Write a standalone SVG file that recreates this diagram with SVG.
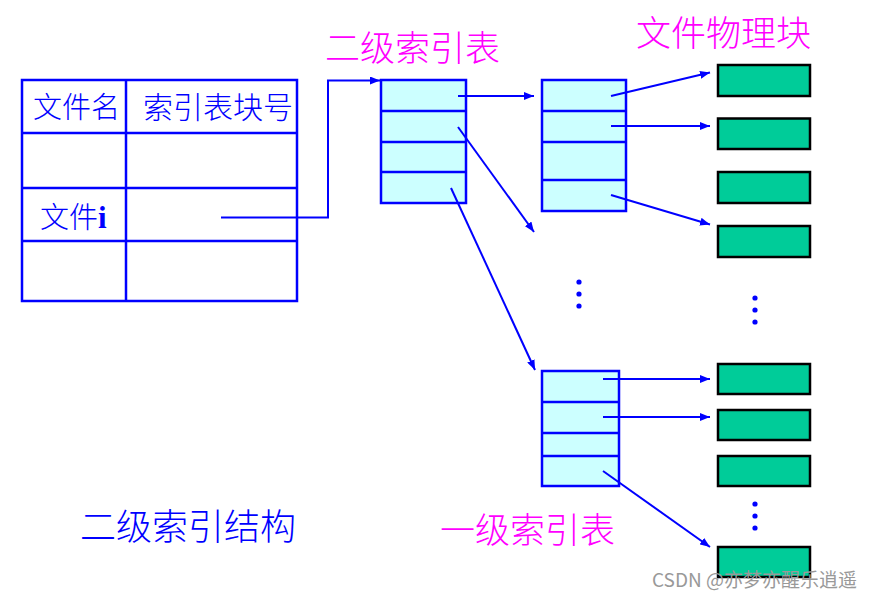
<svg xmlns="http://www.w3.org/2000/svg" width="877" height="599" viewBox="0 0 877 599">
<style>
.tbl{fill:none;stroke:#0000FF;stroke-width:2.5}
.idx{fill:#CCFFFF;stroke:#0000FF;stroke-width:2.5}
.ln{stroke:#0000FF;stroke-width:2.5;fill:none}
.blk{fill:#00CC99;stroke:#000;stroke-width:2.5}
.con{stroke:#0000FF;stroke-width:2;fill:none;marker-end:url(#ah)}
.mag{fill:#FF00FF;font-family:"Noto Sans CJK SC",sans-serif;font-size:35px;font-weight:300}
.bt{fill:#0000FF;font-family:"Noto Sans CJK SC",sans-serif;font-size:29px;font-weight:300}
.dot{fill:#0000FF}
</style>
<defs>
<marker id="ah" viewBox="0 0 10 8" refX="10" refY="4" markerWidth="10" markerHeight="8" markerUnits="userSpaceOnUse" orient="auto">
<path d="M0,0 L10,4 L0,8 Z" fill="#0000FF"/>
</marker>
</defs>

<g id="file-table">
<rect class="tbl" x="22" y="80" width="275" height="221"/>
<line class="ln" x1="126" y1="80" x2="126" y2="301"/>
<line class="ln" x1="22" y1="133" x2="297" y2="133"/>
<line class="ln" x1="22" y1="188" x2="297" y2="188"/>
<line class="ln" x1="22" y1="241" x2="297" y2="241"/>
<text class="bt" x="33" y="118">文件名</text>
<text class="bt" x="143" y="118" style="font-size:30px">索引表块号</text>
<text class="bt" x="40" y="228">文件<tspan font-family="Liberation Serif,serif" font-weight="bold" font-size="31">i</tspan></text>
</g>

<g id="second-index">
<rect class="idx" x="381" y="80" width="85" height="123"/>
<line class="ln" x1="381" y1="111" x2="466" y2="111"/>
<line class="ln" x1="381" y1="142" x2="466" y2="142"/>
<line class="ln" x1="381" y1="172" x2="466" y2="172"/>
</g>

<g id="first-index-top">
<rect class="idx" x="542" y="80" width="84" height="131"/>
<line class="ln" x1="542" y1="111" x2="626" y2="111"/>
<line class="ln" x1="542" y1="142" x2="626" y2="142"/>
<line class="ln" x1="542" y1="180" x2="626" y2="180"/>
</g>

<g id="first-index-bottom">
<rect class="idx" x="542" y="371" width="77" height="115"/>
<line class="ln" x1="542" y1="402" x2="619" y2="402"/>
<line class="ln" x1="542" y1="433" x2="619" y2="433"/>
<line class="ln" x1="542" y1="456" x2="619" y2="456"/>
</g>

<g id="blocks">
<rect class="blk" x="718" y="65" width="92" height="31"/>
<rect class="blk" x="718" y="118.5" width="92" height="30.5"/>
<rect class="blk" x="718" y="172" width="92" height="31"/>
<rect class="blk" x="718" y="226" width="92" height="31"/>
<rect class="blk" x="718" y="364" width="92" height="30"/>
<rect class="blk" x="718" y="410" width="92" height="30"/>
<rect class="blk" x="718" y="456" width="92" height="30"/>
<rect class="blk" x="718" y="547" width="92" height="30"/>
</g>

<g id="dots">
<circle class="dot" cx="579" cy="282" r="2.6"/>
<circle class="dot" cx="579" cy="294" r="2.6"/>
<circle class="dot" cx="579" cy="306" r="2.6"/>
<circle class="dot" cx="755" cy="298" r="2.6"/>
<circle class="dot" cx="755" cy="310" r="2.6"/>
<circle class="dot" cx="755" cy="322" r="2.6"/>
<circle class="dot" cx="755" cy="504" r="2.6"/>
<circle class="dot" cx="755" cy="516" r="2.6"/>
<circle class="dot" cx="755" cy="528" r="2.6"/>
</g>

<g id="connectors">
<polyline class="con" points="221,217.5 328,217.5 328,80.5 380,80.5"/>
<line class="con" x1="458" y1="96" x2="534" y2="96"/>
<line class="con" x1="458" y1="127" x2="534" y2="232"/>
<line class="con" x1="451" y1="188" x2="535" y2="370"/>
<line class="con" x1="611" y1="96" x2="710" y2="72.5"/>
<line class="con" x1="611" y1="126" x2="710" y2="126"/>
<line class="con" x1="611" y1="195" x2="710" y2="224.5"/>
<line class="con" x1="603" y1="379" x2="710" y2="379"/>
<line class="con" x1="603" y1="417" x2="710" y2="417"/>
<line class="con" x1="603" y1="471" x2="710" y2="547"/>
</g>

<g id="labels">
<text class="mag" x="325" y="61">二级索引表</text>
<text class="mag" x="636" y="46">文件物理块</text>
<text class="mag" x="440" y="543">一级索引表</text>
<text class="bt" x="80" y="540" style="font-size:36px">二级索引结构</text>
<text x="652" y="587" fill="#999999" style="font-family:'Noto Sans CJK SC',sans-serif;font-size:19px">CSDN @亦梦亦醒乐逍遥</text>
</g>
</svg>
